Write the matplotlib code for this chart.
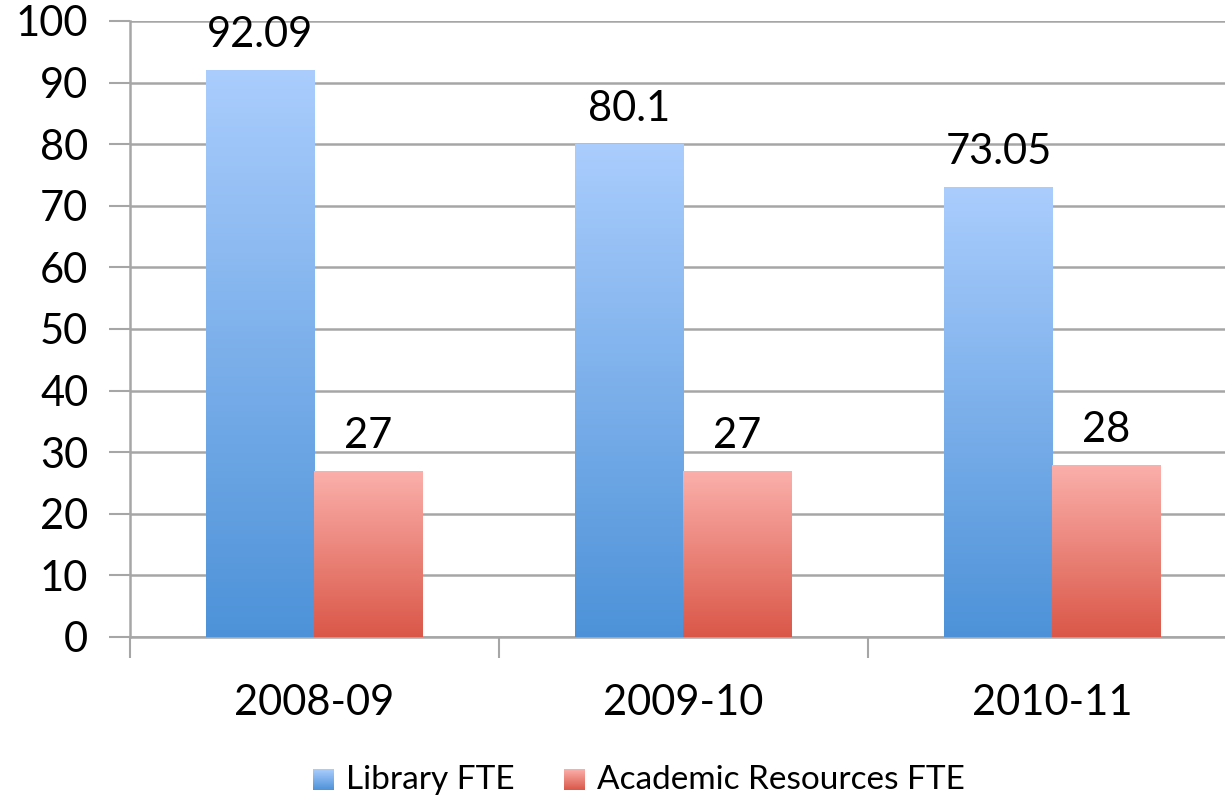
import numpy as np
import matplotlib.pyplot as plt
from matplotlib.colors import LinearSegmentedColormap

# Datos
categorias = ["2008-09", "2009-10", "2010-11"]
library_fte = [92.09, 80.1, 73.05]
academic_fte = [27, 27, 28]
etiquetas_lib = ["92.09", "80.1", "73.05"]
etiquetas_acad = ["27", "27", "28"]
series = ["Library FTE", "Academic Resources FTE"]

plt.rcParams['font.family'] = ['Lato', 'DejaVu Sans']

cmap_azul = LinearSegmentedColormap.from_list("azul", ["#4d92d8", "#aacdfd"])
cmap_rojo = LinearSegmentedColormap.from_list("rojo", ["#da5748", "#fbb0ab"])
gradiente = np.linspace(0, 1, 256).reshape(-1, 1)

fig = plt.figure(figsize=(12.25, 7.99), dpi=100)
ax = fig.add_axes([130 / 1225, 1 - 637 / 799, 1107 / 1225, 616 / 799])

ancho = 0.293
x = np.arange(len(categorias))
gris = '#a6a6a6'


def barra_gradiente(ax, x0, altura, cmap):
    barras = ax.bar(x0, altura, width=ancho, color='none', edgecolor='none', zorder=3)
    b = barras[0]
    im = ax.imshow(gradiente, cmap=cmap, origin='lower', aspect='auto',
                   extent=[b.get_x(), b.get_x() + b.get_width(), 0, altura], zorder=3)
    im.set_clip_path(b)


for i in range(len(categorias)):
    barra_gradiente(ax, x[i] - ancho / 2, library_fte[i], cmap_azul)
    barra_gradiente(ax, x[i] + ancho / 2, academic_fte[i], cmap_rojo)
    ax.text(x[i] - ancho / 2, library_fte[i] + 2.6, etiquetas_lib[i],
            ha='center', va='bottom', fontsize=30, color='black')
    ax.text(x[i] + ancho / 2, academic_fte[i] + 2.6, etiquetas_acad[i],
            ha='center', va='bottom', fontsize=30, color='black')

ax.set_xlim(-0.5, 2.5)
ax.set_ylim(0, 100)
ax.set_yticks(range(0, 101, 10))
ax.yaxis.grid(True, color=gris, linewidth=1.8, zorder=0)
ax.set_axisbelow(True)
ax.set_xticks([-0.5, 0.5, 1.5, 2.5])
ax.set_xticklabels([])
ax.set_xticks(x, minor=True)
ax.set_xticklabels(categorias, minor=True)
ax.tick_params(axis='x', which='major', length=15, width=1.5, color=gris)
ax.tick_params(axis='x', which='minor', length=0, pad=34, labelsize=30)
ax.tick_params(axis='y', length=15, width=1.5, color=gris, labelsize=30, pad=15)
for lado in ['top', 'right']:
    ax.spines[lado].set_visible(False)
for lado in ['left', 'bottom']:
    ax.spines[lado].set_color(gris)
    ax.spines[lado].set_linewidth(1.8)

# Leyenda manual con cuadros degradados
pos_leyenda = [(313, 346, cmap_azul), (564, 597, cmap_rojo)]
for (x_cuadro, x_texto, cmap), nombre in zip(pos_leyenda, series):
    ax_c = fig.add_axes([x_cuadro / 1225, 1 - 790 / 799, 21 / 1225, 21 / 799])
    ax_c.imshow(gradiente, cmap=cmap, origin='lower', aspect='auto')
    ax_c.axis('off')
    fig.text(x_texto / 1225, 1 - 780 / 799, nombre, fontsize=24, va='center', ha='left')

fig.savefig("out.png", dpi=100)
